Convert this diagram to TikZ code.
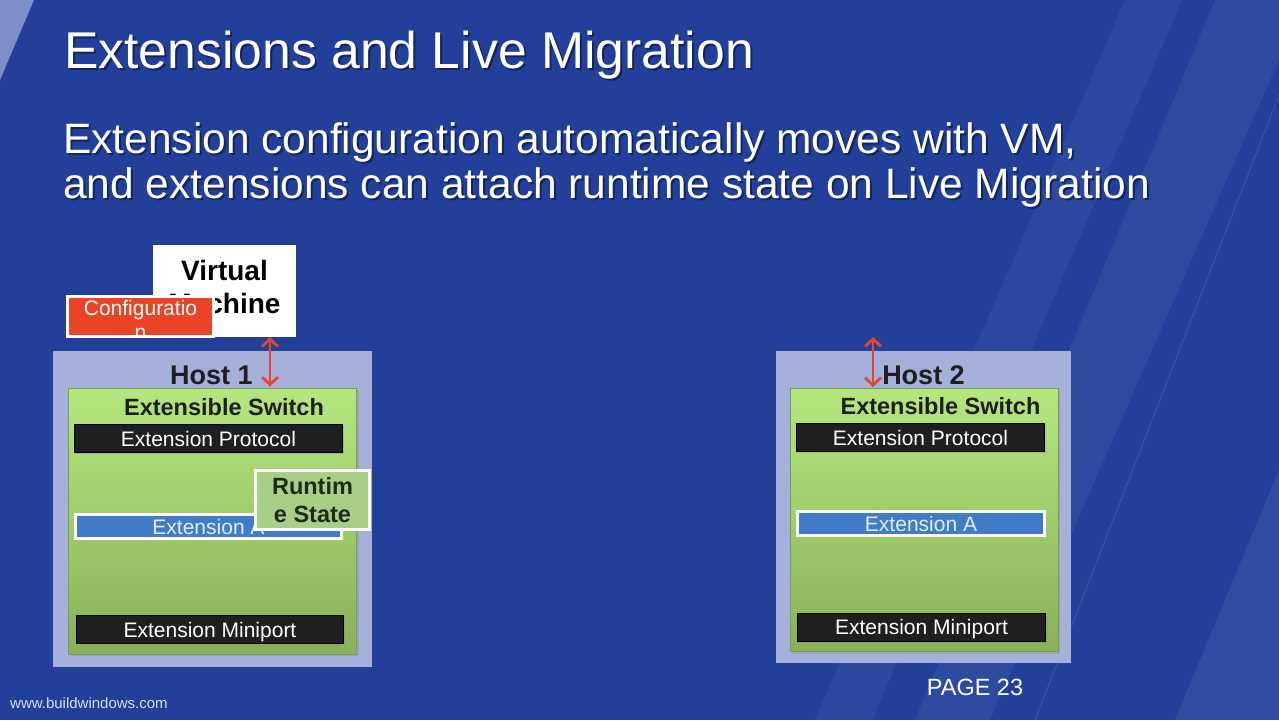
\documentclass[tikz,border=0pt]{standalone}
\usepackage{fontspec}
\setmainfont{Liberation Sans}
\usetikzlibrary{positioning, arrows.meta, shadows}

\definecolor{slideblue}{HTML}{22409A}
\definecolor{cornerblue}{HTML}{7E8EC8}
\definecolor{hostlav}{HTML}{A5B1DA}
\definecolor{switchtop}{HTML}{B5E77E}
\definecolor{switchbot}{HTML}{8AB05A}
\definecolor{switchedge}{HTML}{78A04C}
\definecolor{barblack}{HTML}{1F1F1F}
\definecolor{extblue}{HTML}{407DC9}
\definecolor{extlight}{HTML}{E4ECF7}
\definecolor{stategreen}{HTML}{A9CF86}
\definecolor{statetext}{HTML}{1C2B14}
\definecolor{configred}{HTML}{EA4426}
\definecolor{arrowred}{HTML}{E8452C}
\definecolor{textdark}{HTML}{1E1E1E}
\definecolor{textshadow}{HTML}{14255E}
\definecolor{sitetext}{HTML}{D8DEF0}

\newcommand{\fsz}[2]{\fontsize{#1}{#2}\selectfont}
\newcommand{\shadowed}[1]{\rlap{\kern2pt\raisebox{-2pt}{\textcolor{textshadow}{#1}}}#1}

\tikzset{
  hostbox/.style={fill=hostlav, inner sep=0pt},
  switchbox/.style={top color=switchtop, bottom color=switchbot, draw=switchedge, line width=1pt, inner sep=0pt,
    drop shadow={shadow xshift=2pt, shadow yshift=-2pt, opacity=.3}},
  hostlabel/.style={text=textdark, font=\bfseries\fsz{27}{30}, inner sep=0pt},
  switchlabel/.style={text=textdark, font=\bfseries\fsz{23.5}{27}, inner sep=0pt},
  bartext/.style={font=\fsz{21}{24}, inner sep=0pt, text height=15pt, text depth=0pt},
  blackbar/.style={bartext, fill=barblack, draw=black, line width=.8pt, text=white, minimum height=28pt,
    drop shadow={shadow xshift=1.5pt, shadow yshift=-1.5pt, opacity=.3}},
  extbar/.style={bartext, fill=extblue, draw=white, line width=3pt, text=extlight, minimum height=24pt,
    drop shadow={shadow xshift=1.5pt, shadow yshift=-1.5pt, opacity=.3}},
  statebox/.style={fill=stategreen, draw=white, line width=3pt, text=statetext, font=\bfseries\fsz{23.5}{28},
    align=center, minimum width=114pt, minimum height=59pt, inner sep=0pt,
    drop shadow={shadow xshift=1.5pt, shadow yshift=-1.5pt, opacity=.3}},
  vmbox/.style={fill=white, text=black, font=\bfseries\fsz{28}{33}, align=center,
    minimum width=143pt, minimum height=92pt, inner sep=0pt},
  configbox/.style={fill=configred, draw=white, line width=3pt, minimum width=146pt, minimum height=40pt, inner sep=0pt},
  configtext/.style={text=white, font=\fsz{21}{24}, align=center, inner sep=0pt, anchor=north},
  migarrow/.style={draw=arrowred, line width=2.8pt,
    arrows={Straight Barb[length=7.5pt,width=16pt]-Straight Barb[length=7.5pt,width=16pt]}},
  slidetitle/.style={text=white, font=\fsz{51.7}{56}, anchor=base west, inner sep=0pt},
  slidesub/.style={text=white, font=\fsz{42.5}{46}, anchor=base west, inner sep=0pt},
  pagemark/.style={text=white, font=\fsz{23.5}{26}, inner sep=0pt}
}

\begin{document}
\begin{tikzpicture}[x=1pt, y=-1pt]
  % slide background
  \useasboundingbox (0,0) rectangle (1279,720);
  \fill[slideblue] (0,0) rectangle (1279,720);
  \fill[cornerblue] (0,0) -- (34,0) -- (0,80) -- cycle;
  \fill[white, opacity=.05] (1125,0) -- (1182,0) -- (872,720) -- (815,720) -- cycle;
  \fill[white, opacity=.06] (1215,0) -- (1279,0) -- (1279,60) -- (990,720) -- (915,720) -- cycle;
  \fill[white, opacity=.07] (1279,470) -- (1279,720) -- (1175,720) -- cycle;
  \draw[white, opacity=.1, line width=1pt] (1279,95) -- (1035,720);

  % titles
  \node[slidetitle] (title) at (64,68) {\shadowed{Extensions and Live Migration}};
  \node[slidesub] (sub1) at (63,153) {\shadowed{Extension configuration automatically moves with VM,}};
  \node[slidesub] (sub2) at (63,198) {\shadowed{and extensions can attach runtime state on Live Migration}};

  % host 1
  \node[hostbox, minimum width=319pt, minimum height=316pt] (host1) at (212.5,509) {};
  \node[switchbox, minimum width=288pt, minimum height=266pt] (sw1) at (212.5,521) {};
  \node[hostlabel] (host1lbl) at (211.5,375) {Host 1};
  \node[switchlabel] (sw1lbl) at (224,407) {Extensible Switch};
  \node[blackbar, minimum width=268pt] (proto1) at (208.5,438.5) {Extension Protocol};
  \node[extbar, minimum width=266pt] (exta1) at (208.5,526.5) {Extension A};
  \node[statebox] (state1) at (312.5,500) {Runtim\\e State};
  \node[blackbar, minimum width=267pt] (mini1) at (210,629.5) {Extension Miniport};

  % virtual machine
  \node[vmbox] (vm) at (224.5,291) {Virtual\\Machine\rule[-8pt]{0pt}{8pt}};
  \node[configbox, path picture={
      \node[configtext] (cfgtext) at ([yshift=-1.5pt]path picture bounding box.north) {Configuratio\\n};
    }] (cfg) at (140.5,316.5) {};

  % host 2
  \node[hostbox, minimum width=295pt, minimum height=312pt] (host2) at (923.5,507) {};
  \node[switchbox, minimum width=268pt, minimum height=263pt] (sw2) at (924,520) {};
  \node[hostlabel] (host2lbl) at (923.5,375) {Host 2};
  \node[switchlabel] (sw2lbl) at (940.5,406) {Extensible Switch};
  \node[blackbar, minimum width=248pt] (proto2) at (920.5,437.5) {Extension Protocol};
  \node[extbar, minimum width=247pt] (exta2) at (921,523.5) {Extension A};
  \node[blackbar, minimum width=248pt] (mini2) at (921.5,627) {Extension Miniport};

  % migration arrows
  \coordinate (mig1) at ([xshift=45.5pt]vm.south);
  \coordinate (mig2) at (873,337);
  \draw[migarrow] (mig1) -- ([yshift=1pt]mig1 |- sw1.north);
  \draw[migarrow] (mig2) -- ([yshift=1pt]mig2 |- sw2.north);

  % footer
  \node[pagemark] (pagenum) at (975,687) {PAGE 23};
  \node[anchor=base west, text=sitetext, font=\fsz{15}{17}, inner sep=0pt] (site) at (10,708) {www.buildwindows.com};
\end{tikzpicture}
\end{document}
